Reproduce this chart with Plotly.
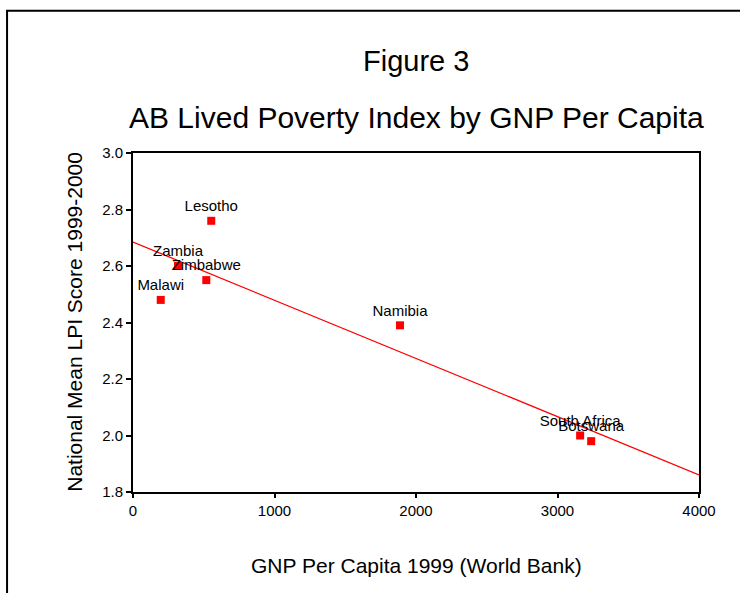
import numpy as np
import plotly.graph_objects as go

countries = ["Lesotho", "Zambia", "Zimbabwe", "Malawi", "Namibia", "South Africa", "Botswana"]
gnp_per_capita = [553, 318, 518, 196, 1887, 3160, 3238]
lpi_score = [2.76, 2.60, 2.55, 2.48, 2.39, 2.00, 1.98]
x_ticks = [0, 1000, 2000, 3000, 4000]
y_ticks = [1.8, 2.0, 2.2, 2.4, 2.6, 2.8, 3.0]
fit_range = [0, 4000]

slope, intercept = np.polyfit(gnp_per_capita, lpi_score, 1)
fit_x = np.array(fit_range, dtype=float)
fit_y = intercept + slope * fit_x

FONT = "Liberation Sans, Arial, sans-serif"

fig = go.Figure()
fig.add_trace(go.Scatter(
    x=fit_x, y=fit_y, mode="lines",
    line=dict(color="#ff0000", width=1.3),
    hoverinfo="skip", showlegend=False, cliponaxis=True,
))
fig.add_trace(go.Scatter(
    x=gnp_per_capita, y=lpi_score, mode="markers+text",
    text=countries, textposition="top center",
    textfont=dict(family=FONT, size=15, color="black"),
    marker=dict(symbol="square", size=8, color="#ff0000", line=dict(width=0)),
    showlegend=False, cliponaxis=False,
))

fig.update_layout(
    width=740, height=593,
    margin=dict(l=133, r=41, t=153, b=101, pad=0),
    paper_bgcolor="white", plot_bgcolor="white",
    font=dict(family=FONT, size=15, color="black"),
    showlegend=False,
    xaxis=dict(
        range=[0, 4000], tickvals=x_ticks, ticks="outside", ticklen=4, tickwidth=1.5,
        tickcolor="black", showgrid=False, zeroline=False,
        showline=True, linecolor="black", linewidth=2, mirror=True,
        tickfont=dict(family=FONT, size=15, color="black"),
    ),
    yaxis=dict(
        range=[1.8, 3.0], tickvals=y_ticks, tickformat=".1f", ticks="outside", ticklen=5,
        tickwidth=1.5, tickcolor="black", showgrid=False, zeroline=False,
        showline=True, linecolor="black", linewidth=2, mirror=True,
        tickfont=dict(family=FONT, size=15, color="black"),
    ),
    annotations=[
        dict(text="Figure 3", xref="paper", yref="paper", x=0.5, y=(491.7 - 61) / 339,
             xanchor="center", yanchor="middle", showarrow=False,
             font=dict(family=FONT, size=29, color="black")),
        dict(text="AB Lived Poverty Index by GNP Per Capita", xref="paper", yref="paper",
             x=0.5, y=(491.7 - 117) / 339, xanchor="center", yanchor="middle",
             showarrow=False, font=dict(family=FONT, size=30, color="black")),
        dict(text="GNP Per Capita 1999 (World Bank)", xref="paper", yref="paper",
             x=0.5, y=(491.7 - 565) / 339, xanchor="center", yanchor="middle",
             showarrow=False, font=dict(family=FONT, size=21, color="black")),
        dict(text="National Mean LPI Score 1999-2000", xref="paper", yref="paper",
             x=(74 - 132.6) / 566.7, y=(491.7 - 321) / 339, xanchor="center", yanchor="middle",
             textangle=-90, showarrow=False, font=dict(family=FONT, size=21, color="black")),
    ],
    shapes=[
        dict(type="rect", xref="paper", yref="paper",
             x0=(6.5 - 132.6) / 566.7, x1=2.0, y0=-2.0, y1=(491.7 - 10.5) / 339,
             line=dict(color="black", width=2), fillcolor="rgba(0,0,0,0)", layer="below"),
    ],
)

fig.write_html("out.html", config={"displayModeBar": False},
               post_script="document.body.style.margin='0px';")
